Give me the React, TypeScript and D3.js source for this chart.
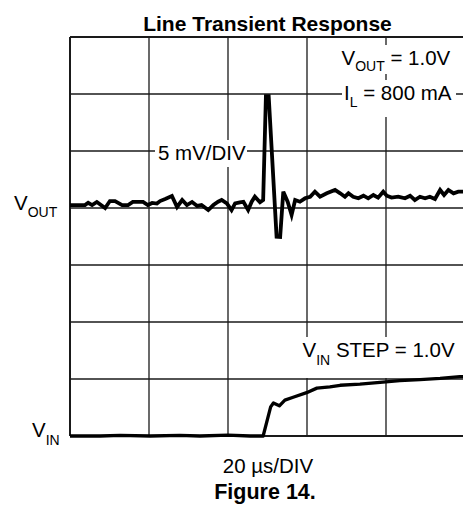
import React from "react";
import * as d3 from "d3";

// ---- Data ----
// time in µs (20 µs/DIV, 5 divisions shown)
const voutTime = [0, 3.8, 4.6, 5.6, 6.8, 8.9, 10.1, 11.4, 13.2, 14.7, 15.9, 18.5, 19.7, 20.8, 22.0, 22.8, 24.1, 25.8, 27.1, 28.4, 29.6, 30.9, 32.2, 33.3, 35.0, 36.3, 37.5, 38.4, 39.7, 40.9, 41.8, 43.0, 43.9, 45.1, 46.0, 46.8, 48.1, 48.9, 49.6, 50.3, 52.3, 53.2, 54.0, 55.1, 56.1, 57.0, 58.2, 59.5, 60.8, 62.0, 63.3, 65.0, 67.1, 68.4, 69.6, 70.5, 71.7, 73.0, 74.3, 75.5, 76.8, 78.0, 79.3, 80.2, 81.4, 83.1, 84.8, 86.1, 87.3, 88.6, 89.9, 91.1, 92.4, 93.7, 94.7, 95.8, 97.1, 98.3, 99.6];
// V_OUT deviation in mV (5 mV/DIV)
const voutMv = [0.26, 0.26, 0.46, 0.26, 0.53, 0.0, 0.61, 0.61, 0.26, 0.26, 0.53, 0.53, 0.26, 0.44, 0.39, 0.61, 0.79, 1.05, 0.09, 0.70, 0.26, 0.53, 0.18, 0.26, -0.18, 0.26, 0.55, 0.70, 0.41, -0.18, 0.41, 0.50, 0.55, -0.18, 0.55, 0.99, 0.50, 0.70, 9.82, 9.82, -2.52, -2.54, 1.43, 0.55, -0.61, 0.70, 0.55, 0.85, 0.99, 1.43, 0.99, 1.29, 1.58, 1.29, 0.99, 1.29, 0.99, 0.85, 1.08, 0.85, 1.14, 0.91, 1.43, 1.08, 0.91, 0.99, 0.85, 1.08, 0.70, 0.99, 0.85, 0.99, 0.79, 1.58, 1.14, 1.58, 1.29, 1.43, 1.43];

const vinTime = [0, 7.6, 12.7, 20.3, 27.8, 32.9, 40.0, 45.6, 48.9, 50.8, 51.5, 53.0, 54.4, 56.5, 59.9, 62.5, 65.8, 68.4, 73.4, 78.5, 83.5, 88.6, 93.7, 98.7, 100];
// V_IN step in V (1 V/DIV)
const vinV = [0, 0, 0.01, 0, 0.01, 0, 0.015, 0, 0, 0.51, 0.58, 0.53, 0.63, 0.68, 0.76, 0.84, 0.86, 0.89, 0.91, 0.94, 0.97, 0.99, 1.01, 1.04, 1.04];

const xTicks = [0, 20, 40, 60, 80, 100];
const yDivTicks = [0, 1, 2, 3, 4, 5, 6, 7];

const FONT = "'Liberation Sans', Arial, Helvetica, sans-serif";

export default function App() {
  const W = 463;
  const H = 506;
  const left = 70, right = 465, top = 37, bottom = 436;

  const x = d3.scaleLinear().domain([0, 100]).range([left, right]);
  const yDiv = d3.scaleLinear().domain([0, 7]).range([bottom, top]);
  // V_OUT centered at division 4, 5 mV per division
  const yOut = d3.scaleLinear().domain([-20, 15]).range([bottom, top]);
  // V_IN baseline at division 0, 1 V per division
  const yIn = d3.scaleLinear().domain([0, 7]).range([bottom, top]);

  const outLine = d3.line<number>()
    .x((_, i) => x(voutTime[i]))
    .y((d) => yOut(d));
  const inLine = d3.line<number>()
    .x((_, i) => x(vinTime[i]))
    .y((d) => yIn(d));

  const grid = "#1a1a1a";

  return (
    <svg width={W} height={H} style={{ position: "absolute", left: 0, top: 0, background: "#fff" }} fontFamily={FONT}>
      <rect x={0} y={0} width={W} height={H} fill="#fff" />
      {/* grid */}
      {xTicks.map((t, i) => (
        <line key={"vx" + i} x1={x(t)} x2={x(t)} y1={top} y2={bottom} stroke={grid} strokeWidth={i === 0 ? 2 : 1.3} />
      ))}
      {yDivTicks.map((d, i) => (
        <line key={"hy" + i} x1={left} x2={right} y1={yDiv(d)} y2={yDiv(d)} stroke={grid} strokeWidth={d === 0 || d === 7 ? 2 : 1.3} />
      ))}

      {/* white boxes behind labels */}
      <rect x={336} y={45} width={124} height={29} fill="#fff" />
      <rect x={342} y={80} width={114} height={37} fill="#fff" />
      <rect x={155} y={140} width={92} height={27} fill="#fff" />
      <rect x={299} y={337} width={160} height={41} fill="#fff" />

      {/* traces */}
      <path d={inLine(vinV) || ""} fill="none" stroke="#000" strokeWidth={3.3} strokeLinejoin="round" />
      <path d={outLine(voutMv) || ""} fill="none" stroke="#000" strokeWidth={3.8} strokeLinejoin="miter" />

      {/* title */}
      <text x={267.5} y={30.5} textAnchor="middle" fontSize={21} fontWeight="bold">Line Transient Response</text>

      {/* annotations */}
      <text x={341.5} y={65} fontSize={20.5}>
        V<tspan fontSize={14} dy={6}>OUT</tspan><tspan dy={-6}> = 1.0V</tspan>
      </text>
      <text x={344} y={100} fontSize={20.5}>
        I<tspan fontSize={14} dy={6.5}>L</tspan><tspan dy={-6.5}> = 800 mA</tspan>
      </text>
      <text x={158} y={160} fontSize={20.5}>5 mV/DIV</text>
      <text x={302.5} y={357} fontSize={20.5}>
        V<tspan fontSize={14} dy={8}>IN</tspan><tspan dy={-8}> STEP = 1.0V</tspan>
      </text>

      {/* left labels */}
      <text x={14} y={210} fontSize={20.5}>
        V<tspan fontSize={14} dy={7}>OUT</tspan>
      </text>
      <text x={32} y={437} fontSize={20.5}>
        V<tspan fontSize={14} dy={8}>IN</tspan>
      </text>

      {/* bottom labels */}
      <text x={268} y={473} textAnchor="middle" fontSize={20.5}>20 µs/DIV</text>
      <text x={265} y={499} textAnchor="middle" fontSize={21.5} fontWeight="bold">Figure 14.</text>
    </svg>
  );
}
